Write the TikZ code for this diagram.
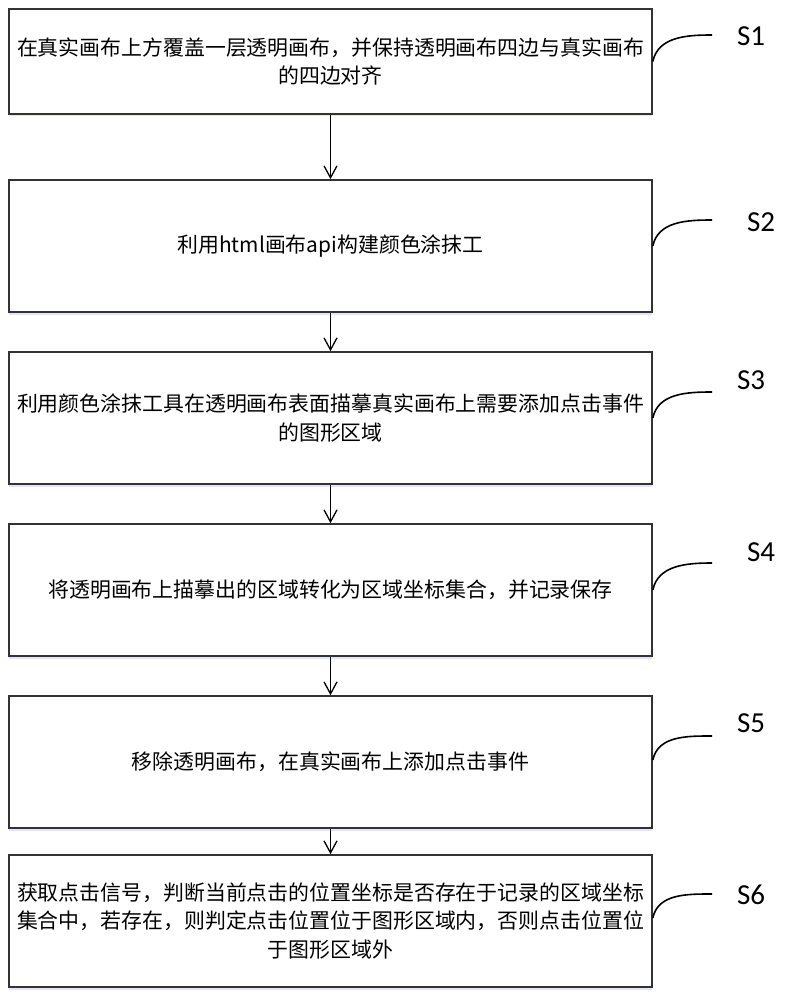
\documentclass[tikz,border=0pt]{standalone}
\usepackage{fontspec}
\setmainfont{Noto Sans CJK SC}
\newfontfamily\labelfont{Carlito}
\usetikzlibrary{arrows.meta,shadows}

\tikzset{
  stepbox/.style={draw=black!80, line width=1.6pt, fill=white,
    minimum width=643pt, inner sep=0pt, align=center,
    font=\fontsize{20.9}{28.5}\selectfont,
    drop shadow={shadow xshift=0pt, shadow yshift=-2.5pt, fill=blue!30!white, opacity=0.35}},
  flow/.style={draw=black, line width=1.3pt, -{Straight Barb[length=12pt,width=13pt,line width=1.3pt]}},
  tag/.style={font=\labelfont\fontsize{29}{29}\selectfont},
  lead/.style={draw=black, line width=1.6pt}
}

\begin{document}
\begin{tikzpicture}[x=1pt,y=-1pt]
    \useasboundingbox (0,0) rectangle (784,1000);
    \node[stepbox, minimum height=105pt] (S1box) at (330.5,61.5)
      {在真实画布上方覆盖一层透明画布，并保持透明画布四边与真实画布\\的四边对齐};
    \node[stepbox, minimum height=132pt] (S2box) at (330.5,246)
      {利用html画布api构建颜色涂抹工};
    \node[stepbox, minimum height=132pt] (S3box) at (330.5,418)
      {利用颜色涂抹工具在透明画布表面描摹真实画布上需要添加点击事件\\的图形区域};
    \node[stepbox, minimum height=132pt] (S4box) at (330.5,590)
      {将透明画布上描摹出的区域转化为区域坐标集合，并记录保存};
    \node[stepbox, minimum height=132pt] (S5box) at (330.5,762)
      {移除透明画布，在真实画布上添加点击事件};
    \node[stepbox, minimum height=132pt] (S6box) at (330.5,921)
      {获取点击信号，判断当前点击的位置坐标是否存在于记录的区域坐标\\集合中，若存在，则判定点击位置位于图形区域内，否则点击位置位\\于图形区域外};
    \draw[flow] (S1box) -- (S2box);
    \draw[flow] (S2box) -- (S3box);
    \draw[flow] (S3box) -- (S4box);
    \draw[flow] (S4box) -- (S5box);
    \draw[flow] (S5box) -- (S6box);
    \coordinate (S1end) at (712,35);
    \coordinate (S2end) at (712,220);
    \coordinate (S3end) at (712,392);
    \coordinate (S4end) at (712,563);
    \coordinate (S5end) at (712,736);
    \coordinate (S6end) at (712,894);
    \draw[lead] (S1box.east) to[out=78,in=180] (S1end);
    \draw[lead] (S2box.east) to[out=78,in=180] (S2end);
    \draw[lead] (S3box.east) to[out=78,in=180] (S3end);
    \draw[lead] (S4box.east) to[out=78,in=180] (S4end);
    \draw[lead] ([yshift=2pt]S5box.east) to[out=78,in=180] (S5end);
    \draw[lead] ([yshift=3pt]S6box.east) to[out=78,in=180] (S6end);
    \node[tag] (S1) at (751,36) {S1};
    \node[tag] (S2) at (761,222) {S2};
    \node[tag] (S3) at (751,380) {S3};
    \node[tag] (S4) at (761,552) {S4};
    \node[tag] (S5) at (751,723) {S5};
    \node[tag] (S6) at (751,895) {S6};
\end{tikzpicture}
\end{document}
